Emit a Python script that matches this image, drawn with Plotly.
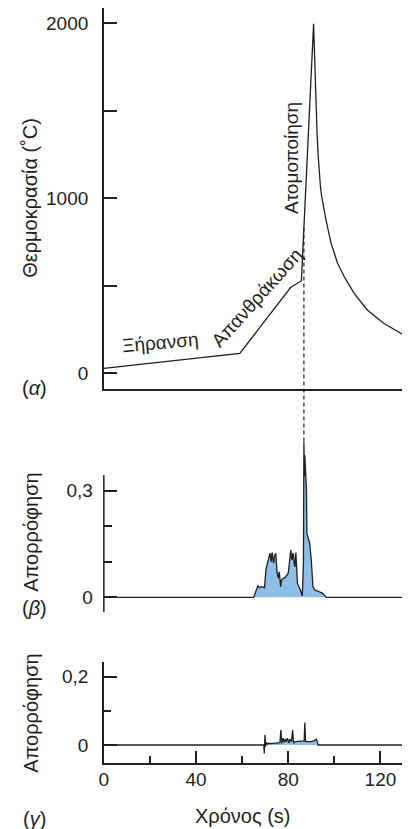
import numpy as np
import plotly.graph_objects as go

# ---------------- data ----------------
# (α) temperature programme of the furnace
temp_time = [0, 59.0, 81.1, 85.7, 91.0, 91.5, 92.0, 92.5, 93.0, 93.5, 94.0, 94.5, 95.0,
             96.4, 98.6, 101.4, 104.3, 108.6, 114.3, 121.4, 129.3, 130.0]
temp_value = [27, 112, 490, 526, 1995, 1760, 1540, 1370, 1240, 1135, 1060, 1010, 970,
              874, 741, 627, 550, 455, 360, 284, 223, 220]

# (β) absorbance signal
beta_time = [0, 65.0, 66.9, 67.4, 68.3, 69.7, 70.3, 71.1, 71.6, 72.1, 72.4, 72.6, 72.9, 73.1, 73.4,
             73.7, 74.1, 74.6, 75.1, 75.7, 76.1, 76.7, 77.1, 77.9, 78.9, 80.0, 80.6, 81.1, 81.4,
             81.7, 82.0, 82.3, 82.6, 82.9, 83.3, 84.0, 85.0, 86.1, 86.6, 86.8, 87.0, 87.2, 87.4,
             87.7, 87.9, 88.1, 89.3, 90.0, 90.7, 91.4, 93.6, 95.0, 96.4, 130.0]
beta_value = [0, 0, 0.033, 0.027, 0.030, 0.027, 0.077, 0.105, 0.112, 0.124, 0.108, 0.100, 0.122, 0.126, 0.104,
              0.096, 0.118, 0.124, 0.072, 0.053, 0.072, 0.030, 0.049, 0.053, 0.058, 0.068, 0.105, 0.133, 0.112,
              0.105, 0.125, 0.119, 0.095, 0.086, 0.126, 0.039, 0.025, 0.004, 0.100, 0.438, 0.340, 0.400, 0.358,
              0.360, 0.302, 0.180, 0.152, 0.105, 0.030, 0.021, 0.016, 0.011, 0, 0]

# (γ) background signal
gamma_time = [0, 69.4, 69.6, 69.9, 70.2, 70.5, 71.0, 71.4, 72.5, 74.0, 76.4, 76.8, 77.2, 77.8, 78.3,
              78.8, 79.2, 79.7, 80.2, 80.8, 81.4, 81.9, 82.3, 83.0, 84.5, 86.4, 86.9, 87.2, 87.5,
              88.5, 90.0, 91.4, 92.1, 92.5, 92.9, 130.0]
gamma_value = [0, 0, -0.025, 0.030, -0.005, 0.008, 0.003, 0.005, 0.004, 0.006, 0.007, 0.044, 0.005, 0.020, 0.008,
               0.018, 0.010, 0.020, 0.006, 0.017, 0.010, 0.044, 0.005, 0.010, 0.010, 0.010, 0.012, 0.066, 0.010,
               0.010, 0.010, 0.013, 0.017, 0.012, 0, 0]

x_ticks = [0, 40, 80, 120]
x_minor = [20, 60, 100]
temp_ticks = [0, 1000, 2000]
temp_minor = [500, 1500]
beta_ticks = [0, 0.3]
beta_ticktext = ["0", "0,3"]
beta_minor = [0.1, 0.2]
gamma_ticks = [0, 0.2]
gamma_ticktext = ["0", "0,2"]
gamma_minor = [0.1]

# ---------------- layout constants ----------------
OFF = 8                      # page body margin
W, H = 410 - OFF, 829 - OFF  # figure size that fits the window
FONT = "Liberation Sans, Arial, sans-serif"
INK = "#231f20"
BLUE = "#8fbfe6"
FS_TICK, FS_TITLE, FS_LABEL = 19, 20, 19

def px(x):  # window column -> paper fraction
    return min(1.0, max(0.0, (x - OFF) / W))

def py(y):  # window row -> paper fraction
    return min(1.0, max(0.0, 1 - (y - OFF) / H))

x_dom = [px(100), px(402)]
x_rng = [0, 129.4]
dom1, rng1 = [py(389), py(8)], [-91.4, 2085.7]
# middle panel: plotting area taller than its drawn axis so the peak can overshoot
axis2_rng = [-0.0414, 0.3445]
dom2, rng2 = [py(612), py(430)], [-0.0414, 0.471]
dom3, rng3 = [py(763.3), py(661.7)], [-0.0535, 0.2436]

def to_paper(v, dom, rng):
    return dom[0] + (v - rng[0]) / (rng[1] - rng[0]) * (dom[1] - dom[0])

fig = go.Figure()
line = dict(color=INK, width=1.3)
fig.add_trace(go.Scatter(x=temp_time, y=temp_value, mode="lines", line=line,
                         xaxis="x", yaxis="y", showlegend=False))
fig.add_trace(go.Scatter(x=beta_time, y=beta_value, mode="lines", line=line, fill="tozeroy",
                         fillcolor=BLUE, xaxis="x2", yaxis="y2", showlegend=False))
fig.add_trace(go.Scatter(x=gamma_time, y=gamma_value, mode="lines", line=line, fill="tozeroy",
                         fillcolor=BLUE, xaxis="x3", yaxis="y3", showlegend=False))

tickfont = dict(family=FONT, size=FS_TICK, color=INK)
base_y = dict(linecolor=INK, linewidth=1.5, showgrid=False, zeroline=False,
              ticks="inside", ticklen=13, tickwidth=1.5, tickcolor=INK, tickfont=tickfont,
              tickmode="array", ticklabelstandoff=10)
base_x = dict(domain=x_dom, range=x_rng, showgrid=False, zeroline=False)

fig.update_layout(
    width=W, height=H, autosize=False,
    margin=dict(l=0, r=0, t=0, b=0),
    paper_bgcolor="white", plot_bgcolor="white",
    font=dict(family=FONT, size=FS_TICK, color=INK),
    xaxis=dict(**base_x, anchor="y", showline=True, linecolor=INK, linewidth=1.5,
               ticks="", showticklabels=False),
    xaxis2=dict(**base_x, anchor="y2", showline=False, ticks="", showticklabels=False),
    xaxis3=dict(**base_x, anchor="y3", showline=True, linecolor=INK, linewidth=1.5,
                ticks="inside", ticklen=13, tickwidth=1.5, tickcolor=INK, tickfont=tickfont,
                tickmode="array", tickvals=x_ticks, ticklabelstandoff=-2,
                minor=dict(tickmode="array", tickvals=x_minor, ticks="inside", ticklen=8,
                           tickwidth=1.5, tickcolor=INK)),
    yaxis=dict(**base_y, showline=True, domain=dom1, range=rng1, anchor="x", tickvals=temp_ticks,
               minor=dict(tickmode="array", tickvals=temp_minor, ticks="inside", ticklen=13,
                          tickwidth=1.5, tickcolor=INK)),
    yaxis2=dict(**base_y, showline=False, domain=dom2, range=rng2, anchor="x2", tickvals=beta_ticks,
                ticktext=beta_ticktext,
                minor=dict(tickmode="array", tickvals=beta_minor, ticks="inside", ticklen=8,
                           tickwidth=1.5, tickcolor=INK)),
    yaxis3=dict(**base_y, showline=True, domain=dom3, range=rng3, anchor="x3", tickvals=gamma_ticks,
                ticktext=gamma_ticktext,
                minor=dict(tickmode="array", tickvals=gamma_minor, ticks="inside", ticklen=7,
                           tickwidth=1.5, tickcolor=INK)),
)

# drawn extent of the middle panel's y axis
fig.add_shape(type="line", xref="paper", yref="y2", x0=x_dom[0], x1=x_dom[0],
              y0=axis2_rng[0], y1=axis2_rng[1], line=dict(color=INK, width=1.5))

# dashed connector from the temperature curve to the absorbance peak
i_peak = int(np.argmax(beta_value))
t_peak = beta_time[i_peak]
T_at_peak = float(np.interp(t_peak, temp_time, temp_value))
fig.add_shape(type="line", xref="x", yref="paper", x0=t_peak, x1=t_peak,
              y0=to_paper(T_at_peak, dom1, rng1), y1=to_paper(beta_value[i_peak], dom2, rng2),
              line=dict(color=INK, width=1.2, dash="4px,3px"))

def ann(text, x, y, angle=0, xref="paper", yref="paper", size=FS_TITLE):
    fig.add_annotation(text=text, x=x, y=y, xref=xref, yref=yref, showarrow=False,
                       textangle=angle, xanchor="center", yanchor="middle",
                       font=dict(family=FONT, size=size, color=INK))

# axis titles and panel labels
ann("Θερμοκρασία (˚C)", px(25), py(198), -90)
ann("(<i>α</i>)", px(30), py(388))
ann("Απορρόφηση", px(26), py(532), -90)
ann("(<i>β</i>)", px(30), py(608))
ann("Απορρόφηση", px(26), py(713), -90)
ann("(<i>γ</i>)", px(30), py(819))
ann("Χρόνος (s)", px(240), py(816))

# in-plot stage labels
ann("Ξήρανση", 24.6, 177, -5, "x", "y", FS_LABEL)
ann("Απανθράκωση", 66.4, 434, -48, "x", "y", FS_LABEL)
ann("Ατομοποίηση", 81.4, 1231, -90, "x", "y", FS_LABEL)

fig.write_html("out.html")
